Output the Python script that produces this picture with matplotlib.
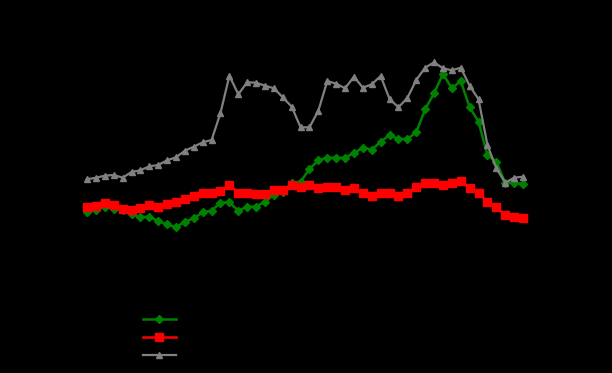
import matplotlib
matplotlib.use('Agg')
import matplotlib.pyplot as plt
import numpy as np

# values (relative units, axes text is black on black)
idx = np.arange(1, 51)

green_vals = [160.7, 163, 166.3, 163.7, 163, 158.7, 155.7, 156.3, 152, 148.7,
              145.7, 151.3, 154.7, 160.7, 162.3, 170.3, 170.7, 162.3, 166.3, 166.3,
              171.3, 178, 180.7, 190.3, 191.3, 204, 212.7, 215.3, 215.3, 215.3,
              220, 225.3, 223.3, 231.3, 238, 234, 234, 240.7, 263.7, 279.7,
              299, 284.7, 292, 265.7, 251.3, 218, 211.3, 190.3, 190.3, 189]

red_vals = [165.7, 167.3, 169.7, 168, 163.7, 163, 164.7, 168, 166.3, 168.7,
            170.7, 174.3, 177.3, 179.7, 179.7, 182.3, 188, 180.3, 180.3, 179,
            179.3, 183, 183, 188, 186.3, 187.7, 184.7, 186.3, 186.3, 183,
            184.7, 179.7, 177.3, 179.7, 180.3, 177.3, 179.7, 186.3, 190.3, 189.7,
            188, 189.7, 192.3, 184.7, 179.7, 171.3, 165.7, 158, 156.3, 154.7]

gray_vals = [193.7, 195.3, 197.3, 198, 195.3, 201, 202.7, 206.7, 208, 212.7,
             215.7, 222.3, 226.3, 230.7, 233, 260, 297.3, 278.7, 290.7, 290.3,
             287.3, 284.7, 275.7, 266.3, 245.7, 245.7, 262.3, 292, 289.3, 284.7,
             296.3, 285.3, 288.7, 297, 274, 265.7, 275, 293, 305.3, 310.7,
             304.7, 302.7, 305.3, 287.3, 273.7, 228, 204.7, 190.3, 195.3, 196.3]

labels = ['Series A', 'Series B', 'Series C']

fig = plt.figure(figsize=(6.12, 3.73), dpi=100, facecolor='black')
ax = fig.add_axes([0, 0, 1, 1], facecolor='black')

ax.plot(idx, green_vals, color='green', marker='D', markersize=4.5, lw=1.8, label=labels[0])
ax.plot(idx, red_vals, color='red', marker='s', markersize=6, lw=1.8, label=labels[1])
ax.plot(idx, gray_vals, color='gray', marker='^', markersize=5, lw=1.6, label=labels[2])

ax.set_xlim(-8.78, 60.0)
ax.set_ylim(0, 373)
for s in ax.spines.values():
    s.set_visible(False)
ax.set_xticks([])
ax.set_yticks([])

# legend text is black on black in the original
leg = ax.legend(loc='upper left', bbox_to_anchor=(0.215, 0.191), bbox_transform=fig.transFigure,
                fontsize=9, handlelength=2.64, labelspacing=0.42, frameon=False, labelcolor='black')

fig.savefig('out.png', dpi=100, facecolor='black')
